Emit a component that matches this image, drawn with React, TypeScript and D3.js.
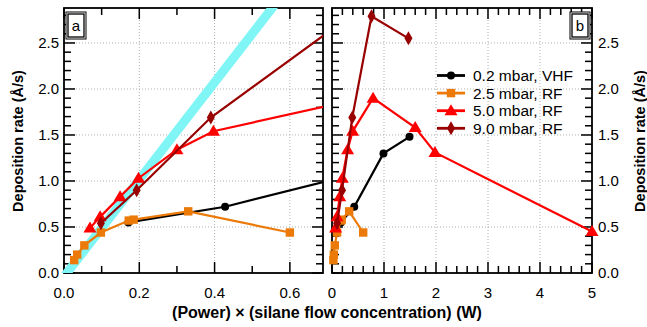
import { useRef, useEffect } from 'react';
import * as d3 from 'd3';

const W = 647;
const H = 327;

// 0.2 mbar, VHF
const vhfX = [0.171, 0.428, 0.99, 1.49];
const vhfY = [0.55, 0.72, 1.3, 1.48];
// 2.5 mbar, RF
const rf25X = [0.027, 0.035, 0.054, 0.098, 0.172, 0.185, 0.33, 0.6];
const rf25Y = [0.14, 0.2, 0.3, 0.44, 0.57, 0.58, 0.67, 0.44];
// 5.0 mbar, RF
const rf50X = [0.069, 0.096, 0.149, 0.198, 0.3, 0.397, 0.79, 1.6, 1.98, 5.0];
const rf50Y = [0.49, 0.61, 0.83, 1.03, 1.34, 1.54, 1.9, 1.58, 1.31, 0.45];
// 9.0 mbar, RF
const rf90X = [0.098, 0.193, 0.39, 0.76, 1.47];
const rf90Y = [0.54, 0.9, 1.69, 2.79, 2.55];

// guide line (cyan)
const guideX = [0.0, 0.57];
const guideY = [-0.04, 2.97];

const yTicks = [0, 0.5, 1.0, 1.5, 2.0, 2.5];
const yMinorTicks = d3.range(0, 29).map((i) => i / 10);
const leftXTicks = [0, 0.2, 0.4, 0.6];
const leftXMinor = d3.range(0, 7).map((i) => i / 10);
const rightXTicks = [0, 1, 2, 3, 4, 5];
const rightXMinor = d3.range(0, 26).map((i) => i / 5);

const seriesNames = ['0.2 mbar, VHF', '2.5 mbar, RF', '5.0 mbar, RF', '9.0 mbar, RF'];
const seriesColors = ['#000000', '#ec7a08', '#ff0000', '#990000'];
const seriesShapes = ['circle', 'square', 'triangle', 'diamond'];

const FONT = 'Arial, "Liberation Sans", sans-serif';

type G = d3.Selection<SVGGElement, unknown, null, undefined>;

function marker(g: G, shape: string, cx: number, cy: number, color: string) {
  if (shape === 'circle') {
    g.append('circle').attr('cx', cx).attr('cy', cy).attr('r', 4).attr('fill', color);
  } else if (shape === 'square') {
    g.append('rect')
      .attr('x', cx - 4.2)
      .attr('y', cy - 4.2)
      .attr('width', 8.4)
      .attr('height', 8.4)
      .attr('fill', color);
  } else if (shape === 'triangle') {
    g.append('path')
      .attr('d', `M${cx},${cy - 6.5}L${cx + 6.5},${cy + 4.5}L${cx - 6.5},${cy + 4.5}Z`)
      .attr('fill', color);
  } else {
    g.append('path')
      .attr('d', `M${cx},${cy - 7}L${cx + 4},${cy}L${cx},${cy + 7}L${cx - 4},${cy}Z`)
      .attr('fill', color);
  }
}

export default function App() {
  const svgRef = useRef<SVGSVGElement>(null);

  useEffect(() => {
    document.body.style.margin = '0';
    const svg = d3.select(svgRef.current);
    svg.selectAll('*').remove();

    const y = d3.scaleLinear().domain([0, 2.88]).range([273, 8]);
    const xl = d3.scaleLinear().domain([0, 0.688]).range([64, 323]);
    const xr = d3.scaleLinear().domain([0, 5]).range([332, 592]);

    const seriesX = [vhfX, rf25X, rf50X, rf90X];
    const seriesY = [vhfY, rf25Y, rf50Y, rf90Y];

    // left panel clips at its frame; right panel lets edge markers overhang
    const defs = svg.append('defs');
    const clips: [string, d3.ScaleLinear<number, number>, number][] = [
      ['clipL', xl, 0],
      ['clipR', xr, 8],
    ];
    clips.forEach(([id, x, extra]) => {
      defs
        .append('clipPath')
        .attr('id', id)
        .append('rect')
        .attr('x', x.range()[0] - 3)
        .attr('y', y.range()[1])
        .attr('width', x.range()[1] - x.range()[0] + 3 + extra)
        .attr('height', y.range()[0] - y.range()[1]);
    });

    function panel(
      x: d3.ScaleLinear<number, number>,
      clipId: string,
      xMajor: number[],
      xMinor: number[],
      side: 'left' | 'right',
    ) {
      const [x0, x1] = x.range();
      const [y0, y1] = y.range();
      const g = svg.append('g');

      // grid
      xMajor
        .filter((v) => v > x.domain()[0] && v < x.domain()[1])
        .forEach((v) => {
          g.append('line')
            .attr('x1', x(v))
            .attr('x2', x(v))
            .attr('y1', y0)
            .attr('y2', y1)
            .attr('stroke', '#b0b0b0')
            .attr('stroke-width', 1)
            .attr('stroke-dasharray', '1,2');
        });
      yTicks
        .filter((v) => v > 0)
        .forEach((v) => {
          g.append('line')
            .attr('x1', x0)
            .attr('x2', x1)
            .attr('y1', y(v))
            .attr('y2', y(v))
            .attr('stroke', '#b0b0b0')
            .attr('stroke-width', 1)
            .attr('stroke-dasharray', '1,2');
        });

      // ticks, inward on all four sides
      const tk = g.append('g').attr('fill', '#000');
      const isMajorY = (v: number) => yTicks.some((m) => Math.abs(m - v) < 1e-6);
      const isMajorX = (v: number) => xMajor.some((m) => Math.abs(m - v) < 1e-6);
      yMinorTicks.forEach((v) => {
        const len = isMajorY(v) ? 11 : 7;
        tk.append('rect').attr('x', x0).attr('y', y(v) - 0.75).attr('width', len).attr('height', 1.5);
        tk.append('rect').attr('x', x1 - len).attr('y', y(v) - 0.75).attr('width', len).attr('height', 1.5);
      });
      xMinor.forEach((v) => {
        const len = isMajorX(v) ? 11 : 7;
        tk.append('rect').attr('x', x(v) - 0.75).attr('y', y0 - len).attr('width', 1.5).attr('height', len);
        tk.append('rect').attr('x', x(v) - 0.75).attr('y', y1).attr('width', 1.5).attr('height', len);
      });

      // tick labels
      xMajor.forEach((v) => {
        g.append('text')
          .attr('x', x(v))
          .attr('y', 298)
          .attr('text-anchor', 'middle')
          .attr('font-family', FONT)
          .attr('font-size', 15)
          .text(side === 'left' ? d3.format('.1f')(v) : String(v));
      });
      yTicks.forEach((v) => {
        g.append('text')
          .attr('x', side === 'left' ? x0 - 5 : x1 + 6)
          .attr('y', y(v) + 5)
          .attr('text-anchor', side === 'left' ? 'end' : 'start')
          .attr('font-family', FONT)
          .attr('font-size', 15)
          .text(d3.format('.1f')(v));
      });

      // frame
      g.append('rect')
        .attr('x', x0)
        .attr('y', y1)
        .attr('width', x1 - x0)
        .attr('height', y0 - y1)
        .attr('fill', 'none')
        .attr('stroke', '#000')
        .attr('stroke-width', 1.8);

      // data
      const data = g.append('g').attr('clip-path', `url(#${clipId})`);
      if (side === 'left') {
        data
          .append('line')
          .attr('x1', x(guideX[0]))
          .attr('y1', y(guideY[0]))
          .attr('x2', x(guideX[1]))
          .attr('y2', y(guideY[1]))
          .attr('stroke', '#7ff5f5')
          .attr('stroke-width', 9);
      }
      seriesX.forEach((xs, s) => {
        const pts = xs.map((v, i) => [x(v), y(seriesY[s][i])] as [number, number]);
        data
          .append('path')
          .attr('d', d3.line()(pts))
          .attr('fill', 'none')
          .attr('stroke', seriesColors[s])
          .attr('stroke-width', 2.2);
        pts.forEach(([px, py]) => marker(data, seriesShapes[s], px, py, seriesColors[s]));
      });
      return g;
    }

    panel(xl, 'clipL', leftXTicks, leftXMinor, 'left');
    const gr = panel(xr, 'clipR', rightXTicks, rightXMinor, 'right');

    // panel labels
    const boxes: [string, number, number][] = [
      ['a', 66, 12],
      ['b', 570, 12],
    ];
    boxes.forEach(([label, bx, by]) => {
      svg
        .append('rect')
        .attr('x', bx)
        .attr('y', by)
        .attr('width', 20)
        .attr('height', 27)
        .attr('fill', '#fff')
        .attr('stroke', '#000')
        .attr('stroke-width', 1);
      svg
        .append('rect')
        .attr('x', bx + 2)
        .attr('y', by + 2)
        .attr('width', 16)
        .attr('height', 23)
        .attr('fill', 'none')
        .attr('stroke', '#000')
        .attr('stroke-width', 1.3);
      svg
        .append('text')
        .attr('x', bx + 10)
        .attr('y', by + 19)
        .attr('text-anchor', 'middle')
        .attr('font-family', FONT)
        .attr('font-size', 15)
        .text(label);
    });

    // legend
    const legend = gr.append('g');
    seriesNames.forEach((name, s) => {
      const ly = 75.5 + s * 17.6;
      legend
        .append('line')
        .attr('x1', 437)
        .attr('x2', 465)
        .attr('y1', ly)
        .attr('y2', ly)
        .attr('stroke', seriesColors[s])
        .attr('stroke-width', 2.8);
      marker(legend, seriesShapes[s], 451, ly, seriesColors[s]);
      legend
        .append('text')
        .attr('x', 473)
        .attr('y', ly + 5.5)
        .attr('font-family', FONT)
        .attr('font-size', 15.5)
        .text(name);
    });

    // axis titles
    svg
      .append('text')
      .attr('transform', `translate(23,141) rotate(-90)`)
      .attr('text-anchor', 'middle')
      .attr('font-family', FONT)
      .attr('font-weight', 'bold')
      .attr('font-size', 14.5)
      .text('Deposition rate (Å/s)');
    svg
      .append('text')
      .attr('transform', `translate(645,141) rotate(-90)`)
      .attr('text-anchor', 'middle')
      .attr('font-family', FONT)
      .attr('font-weight', 'bold')
      .attr('font-size', 14.5)
      .text('Deposition rate (Å/s)');
    svg
      .append('text')
      .attr('x', 327)
      .attr('y', 318)
      .attr('text-anchor', 'middle')
      .attr('font-family', FONT)
      .attr('font-weight', 'bold')
      .attr('font-size', 16)
      .text('(Power) × (silane flow concentration) (W)');
  }, []);

  return <svg ref={svgRef} width={W} height={H} style={{ display: 'block' }} />;
}
